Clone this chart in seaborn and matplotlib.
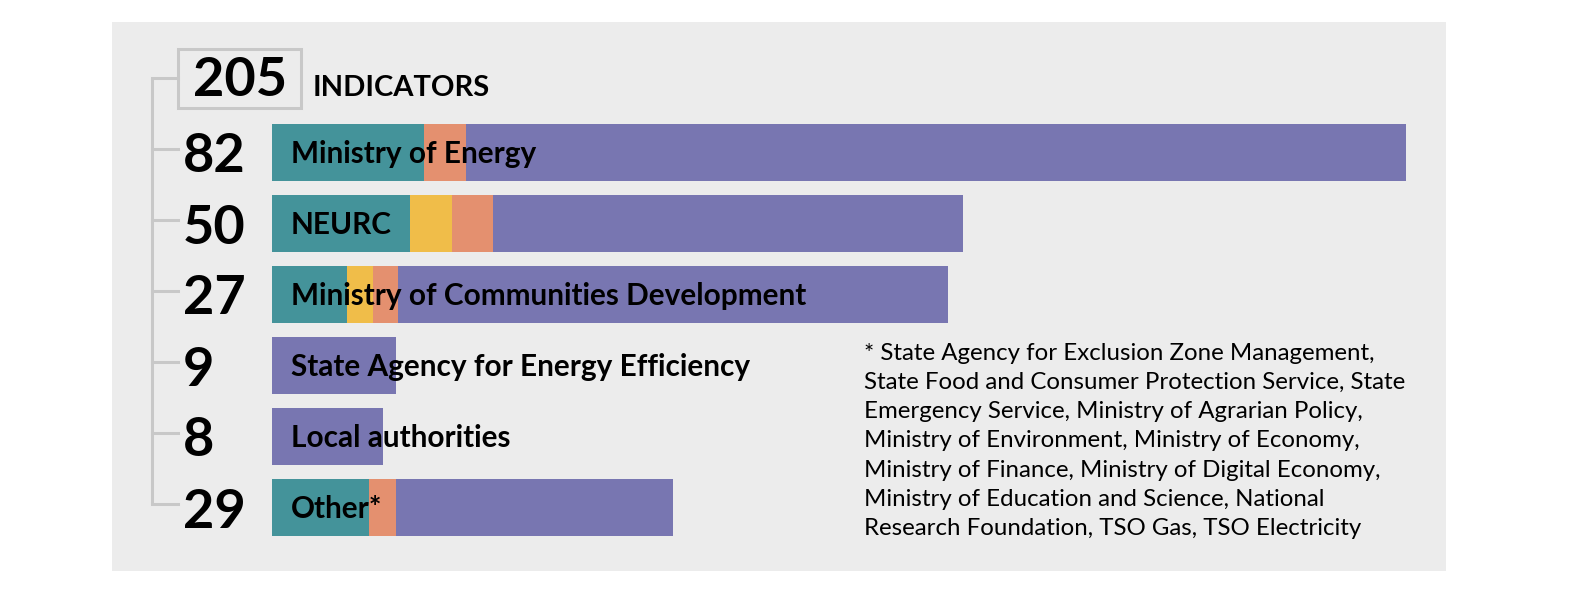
import numpy as np
import pandas as pd
import matplotlib.pyplot as plt
import seaborn as sns
from matplotlib.patches import Rectangle

# data
agencies = ['Ministry of Energy', 'NEURC', 'Ministry of Communities Development',
            'State Agency for Energy Efficiency', 'Local authorities', 'Other*']
totals = [82, 50, 27, 9, 8, 29]
total_all = 205
teal = [11, 10, 5.4, 0, 0, 7]
yellow = [0, 3, 1.9, 0, 0, 0]
orange = [3, 3, 1.8, 0, 0, 2]
purple = [68, 34, 39.8, 9, 8, 20]
footnote = ('* State Agency for Exclusion Zone Management,\n'
            'State Food and Consumer Protection Service, State\n'
            'Emergency Service, Ministry of Agrarian Policy,\n'
            'Ministry of Environment, Ministry of Economy,\n'
            'Ministry of Finance, Ministry of Digital Economy,\n'
            'Ministry of Education and Science, National\n'
            'Research Foundation, TSO Gas, TSO Electricity')

colors = {'teal': '#44939a', 'yellow': '#f0bd49', 'orange': '#e4906f', 'purple': '#7876b1'}
gray_line = '#c8c8c8'

W, H = 1592, 594
fig = plt.figure(figsize=(W / 100, H / 100), dpi=100)
fig.patch.set_facecolor('white')

# background panel + decorations in pixel coords
bg = fig.add_axes([0, 0, 1, 1])
bg.set_xlim(0, W)
bg.set_ylim(H, 0)
bg.axis('off')
bg.add_patch(Rectangle((112, 22), 1334, 549, facecolor='#ececec', edgecolor='none'))

# bars axes: x=0 at px 272, 82 at px 1406; row pitch 71px
row0, pitch = 152.5, 71
top_px = row0 - pitch / 2
bot_px = row0 + pitch * 5.5
ax = fig.add_axes([272 / W, 1 - bot_px / H, (1406 - 272) / W, (bot_px - top_px) / H])

df = pd.DataFrame({'agency': agencies, 'teal': teal, 'yellow': yellow,
                   'orange': orange, 'purple': purple})
segs = ['teal', 'yellow', 'orange', 'purple']
cum = df[segs].cumsum(axis=1)
for s in reversed(segs):
    sns.barplot(x=cum[s], y=df['agency'], color=colors[s], orient='h',
                width=0.8, saturation=1, ax=ax)

ax.set_xlim(0, 82)
ax.set_ylim(5.5, -0.5)
ax.axis('off')

font = 'Lato'
px = bg.transData
# bar labels on top of bars (figure-level text draws after the axes)
for i, name in enumerate(agencies):
    fig.text(291, row0 + pitch * i + 10.5, name, transform=px, ha='left',
             va='baseline', fontsize=21.4, fontweight='bold', family=font, color='black')

# tree on the left
y_rows = [row0 + pitch * i - 4 for i in range(len(agencies))]
bg.plot([152, 152], [78, y_rows[-1]], color=gray_line, lw=2.2, solid_capstyle='butt')
bg.plot([152, 178], [78, 78], color=gray_line, lw=2.2)
for yy, t in zip(y_rows, totals):
    bg.plot([152, 178], [yy, yy], color=gray_line, lw=2.2)
    bg.text(183, yy + 24, str(t), ha='left', va='baseline', fontsize=39,
            fontweight='bold', family=font, color='black')

bg.add_patch(Rectangle((178, 49), 123, 59, facecolor='none', edgecolor=gray_line, lw=2.2))
bg.text(240, 96, str(total_all), ha='center', va='baseline', fontsize=39,
        fontweight='bold', family=font, color='black')
bg.text(313, 96, 'INDICATORS', ha='left', va='baseline', fontsize=21,
        fontweight='bold', family=font, color='black')

bg.text(864, 343, footnote, ha='left', va='top', fontsize=17.3, family=font,
        color='black', linespacing=1.48)

fig.savefig('out.png', dpi=100)
